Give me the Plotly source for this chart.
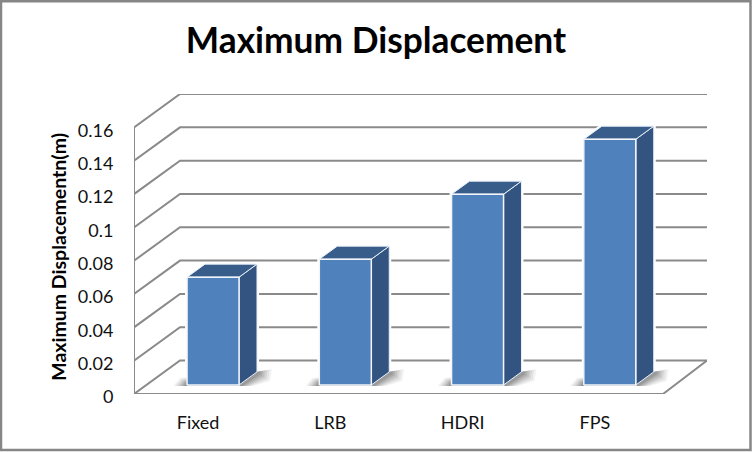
import plotly.graph_objects as go

categories = ["Fixed", "LRB", "HDRI", "FPS"]
values = [0.0647, 0.0755, 0.1145, 0.1475]
y_ticks = [0, 0.02, 0.04, 0.06, 0.08, 0.1, 0.12, 0.14, 0.16]
y_tick_labels = ["0", "0.02", "0.04", "0.06", "0.08", "0.1", "0.12", "0.14", "0.16"]
title_text = "Maximum Displacement"
y_title = "Maximum Displacementn(m)"

W, H = 752, 452
L, R, T, B = 134, 707, 94, 394.5
CAT_PX = (663 - 134) / 4
Y_PX = (394.5 - 127.5) / 0.16
DX = 46 / CAT_PX            # full floor depth, x units
DY = 33.5 / Y_PX            # full floor depth, y units
X_MAX = (R - L) / CAT_PX
Y_MAX = (B - T) / Y_PX

GRID = "#8a8a8a"
FRONT = "#4f81bd"
SIDE = "#335480"
TOP = "#385d8a"

D0, D1 = 0.27, 0.66         # bar depth span as a fraction of floor depth
BAR_W = 52 / CAT_PX


def proj(x, y, d):
    return x + d * DX, y + d * DY


def poly(pts, fill, line=None, width=0, opacity=1):
    xs = [p[0] for p in pts] + [pts[0][0]]
    ys = [p[1] for p in pts] + [pts[0][1]]
    return go.Scatter(
        x=xs, y=ys, mode="lines", fill="toself", fillcolor=fill, opacity=opacity,
        line=dict(color=line or "rgba(0,0,0,0)", width=width),
        hoverinfo="skip", showlegend=False, cliponaxis=False,
    )


fig = go.Figure()

# walls: grid lines run along the side wall and the back wall
gx, gy = [], []
for v in y_ticks:
    bx, by = proj(0, v, 1)
    gx += [0, bx, X_MAX, None]
    gy += [v, by, by, None]
gx += [0, 0, None, 0, 4, X_MAX]
gy += [0, y_ticks[-1], None, 0, 0, DY]
fig.add_trace(go.Scatter(x=gx, y=gy, mode="lines", line=dict(color=GRID, width=2),
                         hoverinfo="skip", showlegend=False, cliponaxis=False))

half = BAR_W / 2
for i, v in enumerate(values):
    c = i + 0.5 + 0.5 / CAT_PX
    x0, x1 = c - half, c + half
    fx0, fy0 = proj(x0, 0, D0)
    fx1, fy1 = proj(x1, 0, D0)
    u = 1 / CAT_PX
    w = 1 / Y_PX
    # white halo breaks the grid lines beside the bar
    fig.add_trace(poly([proj(x0, 0, D0), proj(x1, 0, D0), proj(x1, 0, D1), proj(x1, v, D1),
                        proj(x0, v, D1), proj(x0, v, D0)],
                       "#ffffff", line="#ffffff", width=4))
    # soft floor shadow, layered from wide and faint to tight and dark
    for k, op in [(1.0, 0.07), (0.85, 0.09), (0.7, 0.11), (0.55, 0.14), (0.4, 0.17), (0.25, 0.2)]:
        fig.add_trace(poly([
            (fx0 - 14 * k * u, fy0 - 1 * w),
            (fx0 - 7 * k * u, fy0 + 7 * k * w),
            (fx0 + 4 * u, fy0 + 8 * w),
            (fx1 + 18 * u, fy1 + 13 * w),
            (fx1 + (18 + 15 * k) * u, fy1 + (13 + 3 * k) * w),
            (fx1 + (18 + 13 * k) * u, fy1 + (13 - 9 * k) * w),
            (fx1 + 14 * k * u, fy1 - 1 * w),
        ], "#505050", opacity=op))
    fig.add_trace(poly([proj(x1, 0, D0), proj(x1, 0, D1), proj(x1, v, D1), proj(x1, v, D0)],
                       SIDE, line="#e8f0f8", width=1))
    fig.add_trace(poly([proj(x0, v, D0), proj(x1, v, D0), proj(x1, v, D1), proj(x0, v, D1)],
                       TOP, line="#e8f0f8", width=1))
    fig.add_trace(poly([proj(x0, 0, D0), proj(x1, 0, D0), proj(x1, v, D0), proj(x0, v, D0)],
                       FRONT, line="#f2f6fb", width=1.5))

fig.update_layout(
    width=W, height=H, autosize=False,
    margin=dict(l=L, r=W - R, t=T, b=H - B),
    paper_bgcolor="white", plot_bgcolor="white",
    font=dict(family="Lato, Carlito, sans-serif", color="#000000"),
    title=dict(text=f"<b>{title_text}</b>", font=dict(size=35.3, family="Lato", color="#000000"),
               x=376 / W, xanchor="center", y=1 - 40.5 / H, yanchor="middle"),
    xaxis=dict(range=[0, X_MAX], tickvals=[i + 0.5 for i in range(len(categories))],
               ticktext=categories, showgrid=False, zeroline=False, showline=False,
               ticks="outside", ticklen=12, tickcolor="rgba(0,0,0,0)",
               ticklabelshift=-2,
               tickfont=dict(size=18, family="Lato", color="#111111")),
    yaxis=dict(range=[0, Y_MAX], tickvals=y_ticks, ticktext=y_tick_labels,
               showgrid=False, zeroline=False, showline=False,
               ticks="outside", ticklen=16, tickcolor="rgba(0,0,0,0)",
               ticklabelshift=3,
               tickfont=dict(size=18, family="Lato", color="#111111")),
    annotations=[dict(text=f"<b>{y_title}</b>", textangle=-90, showarrow=False,
                      xref="paper", yref="paper",
                      x=(59 - L) / (R - L), y=(B - 257) / (B - T),
                      xanchor="center", yanchor="middle",
                      font=dict(size=19.5, family="Lato", color="#000000"))],
    shapes=[dict(type="rect", xref="paper", yref="paper",
                 x0=(1 - L) / (R - L), x1=(750.5 - L) / (R - L),
                 y0=(B - 450.5) / (B - T), y1=(B - 1) / (B - T),
                 line=dict(color="#868686", width=2.5), fillcolor="rgba(0,0,0,0)", layer="below")],
)

fig.write_html("out.html", config=dict(displayModeBar=False),
               post_script="document.body.style.margin='0';document.body.style.overflow='hidden';")
